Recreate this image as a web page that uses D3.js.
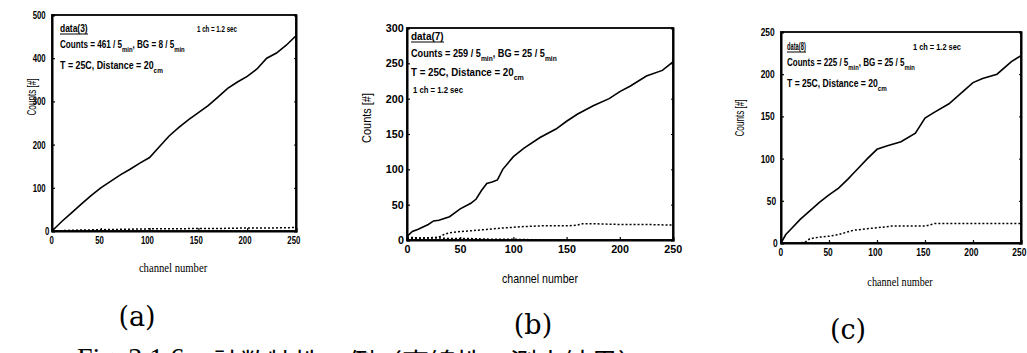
<!DOCTYPE html>
<html><head><meta charset="utf-8">
<script src="https://cdn.jsdelivr.net/npm/d3@7"></script>
<style>
body{margin:0;background:#fff;}
svg{display:block;}
text,tspan{fill:#000;}
</style></head>
<body>
<svg id="c" width="1027" height="353"></svg>
<script>
// ---- data ----
const channelsA = [0,10,20,30,40,50,60,70,80,90,100,110,120,130,140,150,160,170,180,190,200,210,220,230,240,250];
const countsA   = [0,22,42,62,82,100,115,130,143,157,170,195,220,240,258,274,290,310,330,345,358,375,400,412,430,452];
const bgChA     = [0,25,50,75,100,125,150,175,200,225,250];
const bgA       = [0,2,3,4,5,5,6,6,7,7,8];

const channelsB = [0,5,10,20,25,30,40,50,60,65,70,75,80,85,90,100,110,125,140,150,160,175,190,200,210,225,240,250];
const countsB   = [5,12,15,22,27,28,33,44,52,58,70,80,82,85,100,118,130,145,157,168,178,190,200,210,218,232,240,252];
const bgChB     = [0,10,20,30,35,40,50,60,75,90,100,110,125,140,150,160,165,175,200,225,250];
const bgB       = [2,2,3,4,8,10,12,13,15,17,18,19,20,20,20,21,23,23,22,22,21];
const bg2ChB    = [0,10,20,30,40,60,80,100,130,160,200,250];
const bg2B      = [4,3,3,3,2,2,1,1,0,0,0,0];

const channelsC = [0,5,10,20,25,30,40,50,60,70,75,80,90,100,110,125,140,150,160,175,190,200,210,225,240,250];
const countsC   = [0,10,16,28,33,38,48,57,65,76,82,88,100,111,115,120,130,148,155,165,180,190,195,200,215,222];
const bgChC     = [0,20,25,30,40,50,60,75,90,100,115,130,150,160,175,200,250];
const bgC       = [0,0,1,5,7,8,10,15,17,18,20,20,20,23,23,23,23];

const xTicks = [0,50,100,150,200,250];
const yTicksA = [0,100,200,300,400,500];
const yTicksB = [0,50,100,150,200,250,300];
const yTicksC = [0,50,100,150,200,250];

const dataNames = ["data(3)","data(7)","data(8)"];
const countsText = ["461","259","225"];
const bgText = ["8","25","25"];
const subLabels = ["(a)","(b)","(c)"];
const captionFig = "Fig. 3.1.6";
const captionJa = "計数特性の例（直線性の測定結果）";

// ---- drawing ----
const svg = d3.select("#c");
const sans = "'Liberation Sans',Arial,sans-serif";

function squeeze(sel, W){
  sel.each(function(){
    const bb = this.getBBox();
    if (!bb.width) return;
    const k = W / bb.width;
    const cx = this.getAttribute("text-anchor")==="middle" ? bb.x+bb.width/2 :
               this.getAttribute("text-anchor")==="end" ? bb.x+bb.width : bb.x;
    const prev = this.getAttribute("transform") || "";
    this.setAttribute("transform", `${prev} translate(${cx},0) scale(${k},1) translate(${-cx},0)`);
  });
}

const panels = [
  {l:52,r:296,t:15,b:231,ymax:500,yt:yTicksA,ch:channelsA,v:countsA,bgs:[[bgChA,bgA]],
   tickW:13,ypad:1,ylab:[32,97],ylabH:37,xlab:[173,267],xlabW:69,sub:[137,326],
   ann:{name:[60,32,28],counts:[60,48,125],temp:[60,69,103],chs:[197,32,40]}},
  {l:407,r:673,t:28,b:240,ymax:300,yt:yTicksB,ch:channelsB,v:countsB,bgs:[[bgChB,bgB],[bg2ChB,bg2B]],
   tickW:18,ypad:3,ylab:[367,118],ylabH:50,xlab:[540,279],xlabW:76,sub:[533,334],
   ann:{name:[411,40,33],counts:[411,57,146],temp:[411,76,113],chs:[413,93,50]}},
  {l:781,r:1021,t:32,b:243,ymax:250,yt:yTicksC,ch:channelsC,v:countsC,bgs:[[bgChC,bgC]],
   tickW:14,ypad:2,ylab:[740,118],ylabH:37,xlab:[900,281],xlabW:66,sub:[848,339],
   ann:{name:[787,50,19],counts:[787,66,128],temp:[787,87,100],chs:[913,50,48]}}
];

panels.forEach((p,i)=>{
  const x = d3.scaleLinear().domain([0,250]).range([p.l,p.r]);
  const y = d3.scaleLinear().domain([0,p.ymax]).range([p.b,p.t]);
  const g = svg.append("g");
  g.append("rect").attr("x",p.l).attr("y",p.t).attr("width",p.r-p.l).attr("height",p.b-p.t)
    .attr("fill","none").attr("stroke","#000").attr("stroke-width",1.8);
  const xa = g.append("g").attr("transform",`translate(0,${p.b})`)
    .call(d3.axisBottom(x).tickValues(xTicks).tickSize(-3).tickPadding(5).tickFormat(d3.format("d")));
  const ya = g.append("g").attr("transform",`translate(${p.l},0)`)
    .call(d3.axisLeft(y).tickValues(p.yt).tickSize(-3).tickPadding(p.ypad).tickFormat(d3.format("d")));
  [xa,ya].forEach(a=>{
    a.select(".domain").attr("stroke","#000").attr("stroke-width",2);
    a.selectAll(".tick line").attr("stroke","#000").attr("stroke-width",1.2);
    a.selectAll("text").attr("font-family",sans).attr("font-weight","bold").attr("font-size",11).attr("fill","#000");
  });
  xa.selectAll("text").attr("dy","0.75em");
  [xa,ya].forEach(a=>a.selectAll("text").each(function(d){
    const n = String(d).length;
    squeeze(d3.select(this), p.tickW * n / 3);
  }));
  g.append("g").attr("transform",`translate(${p.r},0)`)
    .call(d3.axisRight(y).tickValues(p.yt).tickSize(-2).tickFormat(""))
    .call(a=>{a.select(".domain").attr("stroke","#000").attr("stroke-width",2);a.selectAll("line").attr("stroke","#000");});
  const yl = g.append("text").attr("transform",`translate(${p.ylab[0]},${p.ylab[1]}) rotate(-90)`)
    .attr("text-anchor","middle").attr("dy","0.35em")
    .attr("font-family",sans).attr("font-size",12).text("Counts [#]");
  {
    const bb = yl.node().getBBox();
    const k = p.ylabH / bb.width;
    yl.attr("transform",`translate(${p.ylab[0]},${p.ylab[1]}) rotate(-90) scale(${k},1)`);
  }
  const xl = g.append("text").attr("x",p.xlab[0]).attr("y",p.xlab[1]).attr("text-anchor","middle")
    .attr("font-family",i===1?sans:"'Liberation Serif','Times New Roman',serif").attr("font-size",i===1?12:13)
    .attr("dy","0.35em").text("channel number");
  squeeze(xl, p.xlabW);
  const line = d3.line().x(d=>x(d[0])).y(d=>y(d[1]));
  g.append("path").datum(p.ch.map((c,k)=>[c,p.v[k]]))
    .attr("d",line).attr("fill","none").attr("stroke","#000").attr("stroke-width",1.6);
  p.bgs.forEach(([cs,vs])=>{
    g.append("path").datum(cs.map((c,k)=>[c,vs[k]]))
      .attr("d",line).attr("fill","none").attr("stroke","#000").attr("stroke-width",1.5)
      .attr("stroke-dasharray","2,2");
  });
  const as = 11;
  const nm = g.append("text").attr("x",p.ann.name[0]).attr("y",p.ann.name[1])
    .attr("font-family",sans).attr("font-size",as).attr("font-weight","bold").text(dataNames[i]);
  squeeze(nm, p.ann.name[2]);
  g.append("line").attr("x1",p.ann.name[0]).attr("x2",p.ann.name[0]+p.ann.name[2])
    .attr("y1",p.ann.name[1]+2).attr("y2",p.ann.name[1]+2).attr("stroke","#000").attr("stroke-width",1);
  const ct = g.append("text").attr("x",p.ann.counts[0]).attr("y",p.ann.counts[1])
    .attr("font-family",sans).attr("font-size",as).attr("font-weight","bold");
  ct.append("tspan").text(`Counts = ${countsText[i]} / 5`);
  ct.append("tspan").attr("font-size",as-3).attr("dy",4).text("min");
  ct.append("tspan").attr("dy",-4).text(`, BG = ${bgText[i]} / 5`);
  ct.append("tspan").attr("font-size",as-3).attr("dy",4).text("min");
  squeeze(ct, p.ann.counts[2]);
  const tt = g.append("text").attr("x",p.ann.temp[0]).attr("y",p.ann.temp[1])
    .attr("font-family",sans).attr("font-size",as).attr("font-weight","bold");
  tt.append("tspan").text("T = 25C, Distance = 20");
  tt.append("tspan").attr("font-size",as-3).attr("dy",4).text("cm");
  squeeze(tt, p.ann.temp[2]);
  const cs = g.append("text").attr("x",p.ann.chs[0]).attr("y",p.ann.chs[1])
    .attr("font-family",sans).attr("font-size",9).attr("font-weight","bold").text("1 ch = 1.2 sec");
  squeeze(cs, p.ann.chs[2]);
  g.append("text").attr("x",p.sub[0]).attr("y",p.sub[1]).attr("text-anchor","middle")
    .attr("font-family","'DejaVu Serif','Liberation Serif',serif").attr("font-size",27).text(subLabels[i]);
});

// caption (clipped by the bottom edge, as in the reference)
svg.append("text").attr("x",77).attr("y",367)
  .attr("font-family","'Liberation Serif','Times New Roman',serif").attr("font-size",28)
  .text(captionFig);
svg.append("text").attr("x",213).attr("y",373)
  .attr("font-family","'Noto Sans CJK JP',sans-serif").attr("font-size",27)
  .text(captionJa);
</script>
</body></html>
